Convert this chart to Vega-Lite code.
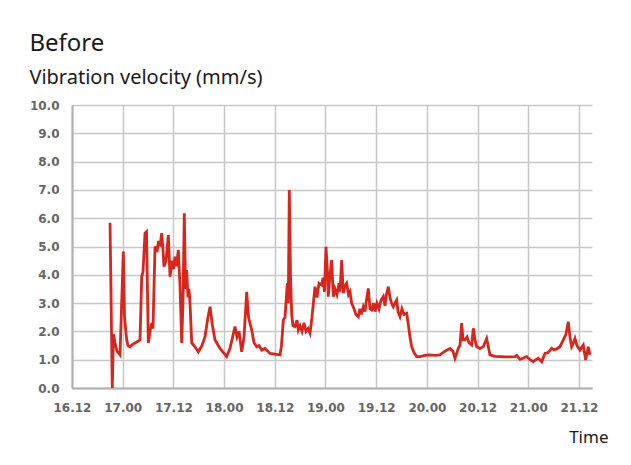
{
  "width": 520,
  "height": 283,
  "autosize": "none",
  "padding": {"left": 72, "top": 105, "right": 39, "bottom": 77},
  "background": "white",
  "title": {
    "text": "Before",
    "subtitle": "Vibration velocity (mm/s)",
    "anchor": "start",
    "dx": 0,
    "font": "Noto Sans",
    "fontSize": 24,
    "fontWeight": "normal",
    "color": "#1a1a1a",
    "subtitleFont": "Noto Sans",
    "subtitleFontSize": 20,
    "subtitleColor": "#1a1a1a",
    "subtitlePadding": 12,
    "offset": 11
  },
  "config": {
    "view": {"strokeWidth": 0},
    "axis": {
      "labelFont": "DejaVu Sans",
      "labelFontWeight": "bold",
      "labelFontSize": 12,
      "labelColor": "#666666",
      "gridColor": "#c6c8ca",
      "gridWidth": 1.5,
      "domainColor": "#b0b0b0",
      "domainWidth": 2,
      "ticks": false
    }
  },
  "data": {
    "values": [
      {"time": "2020-12-16T21:00:00Z", "v": 5.84},
      {"time": "2020-12-16T21:32:00Z", "v": 0.0},
      {"time": "2020-12-16T21:49:00Z", "v": 1.9},
      {"time": "2020-12-16T22:11:00Z", "v": 1.59},
      {"time": "2020-12-16T22:39:00Z", "v": 1.3},
      {"time": "2020-12-16T23:22:00Z", "v": 1.17},
      {"time": "2020-12-17T00:09:00Z", "v": 4.82},
      {"time": "2020-12-17T00:26:00Z", "v": 2.5},
      {"time": "2020-12-17T00:57:00Z", "v": 1.7},
      {"time": "2020-12-17T01:15:00Z", "v": 1.5},
      {"time": "2020-12-17T01:44:00Z", "v": 1.46},
      {"time": "2020-12-17T02:26:00Z", "v": 1.55},
      {"time": "2020-12-17T02:55:00Z", "v": 1.59},
      {"time": "2020-12-17T03:37:00Z", "v": 1.65},
      {"time": "2020-12-17T04:06:00Z", "v": 1.7},
      {"time": "2020-12-17T04:30:00Z", "v": 3.93},
      {"time": "2020-12-17T04:48:00Z", "v": 4.1},
      {"time": "2020-12-17T05:17:00Z", "v": 5.47},
      {"time": "2020-12-17T05:38:00Z", "v": 5.52},
      {"time": "2020-12-17T06:04:00Z", "v": 1.59},
      {"time": "2020-12-17T06:28:00Z", "v": 2.0},
      {"time": "2020-12-17T06:52:00Z", "v": 2.3},
      {"time": "2020-12-17T07:10:00Z", "v": 2.1},
      {"time": "2020-12-17T07:39:00Z", "v": 5.0},
      {"time": "2020-12-17T08:07:00Z", "v": 4.8},
      {"time": "2020-12-17T08:28:00Z", "v": 5.2},
      {"time": "2020-12-17T08:50:00Z", "v": 5.0},
      {"time": "2020-12-17T09:14:00Z", "v": 5.47},
      {"time": "2020-12-17T09:32:00Z", "v": 4.9},
      {"time": "2020-12-17T09:46:00Z", "v": 4.29},
      {"time": "2020-12-17T10:15:00Z", "v": 4.5},
      {"time": "2020-12-17T10:48:00Z", "v": 5.4},
      {"time": "2020-12-17T11:12:00Z", "v": 3.93},
      {"time": "2020-12-17T11:40:00Z", "v": 4.5},
      {"time": "2020-12-17T12:01:00Z", "v": 4.2},
      {"time": "2020-12-17T12:23:00Z", "v": 4.64},
      {"time": "2020-12-17T12:44:00Z", "v": 4.3},
      {"time": "2020-12-17T13:10:00Z", "v": 4.88},
      {"time": "2020-12-17T13:34:00Z", "v": 3.6},
      {"time": "2020-12-17T13:58:00Z", "v": 1.59},
      {"time": "2020-12-17T14:16:00Z", "v": 3.0},
      {"time": "2020-12-17T14:35:00Z", "v": 6.17},
      {"time": "2020-12-17T14:52:00Z", "v": 3.5},
      {"time": "2020-12-17T15:09:00Z", "v": 4.17},
      {"time": "2020-12-17T15:27:00Z", "v": 3.2},
      {"time": "2020-12-17T15:41:00Z", "v": 3.5},
      {"time": "2020-12-17T15:56:00Z", "v": 3.0},
      {"time": "2020-12-17T16:20:00Z", "v": 1.59},
      {"time": "2020-12-17T17:07:00Z", "v": 1.45},
      {"time": "2020-12-17T17:54:00Z", "v": 1.28},
      {"time": "2020-12-17T18:46:00Z", "v": 1.5},
      {"time": "2020-12-17T19:29:00Z", "v": 1.81},
      {"time": "2020-12-17T20:11:00Z", "v": 2.5},
      {"time": "2020-12-17T20:40:00Z", "v": 2.87},
      {"time": "2020-12-17T21:15:00Z", "v": 2.2},
      {"time": "2020-12-17T21:51:00Z", "v": 1.7},
      {"time": "2020-12-17T23:02:00Z", "v": 1.4},
      {"time": "2020-12-18T00:37:00Z", "v": 1.11},
      {"time": "2020-12-18T01:24:00Z", "v": 1.4},
      {"time": "2020-12-18T02:35:00Z", "v": 2.17},
      {"time": "2020-12-18T03:03:00Z", "v": 1.8},
      {"time": "2020-12-18T03:32:00Z", "v": 2.0},
      {"time": "2020-12-18T04:10:00Z", "v": 1.28},
      {"time": "2020-12-18T04:43:00Z", "v": 1.8},
      {"time": "2020-12-18T05:21:00Z", "v": 3.4},
      {"time": "2020-12-18T05:47:00Z", "v": 2.5},
      {"time": "2020-12-18T06:32:00Z", "v": 2.05},
      {"time": "2020-12-18T07:05:00Z", "v": 1.6},
      {"time": "2020-12-18T07:43:00Z", "v": 1.46},
      {"time": "2020-12-18T08:16:00Z", "v": 1.5},
      {"time": "2020-12-18T08:54:00Z", "v": 1.34},
      {"time": "2020-12-18T09:41:00Z", "v": 1.4},
      {"time": "2020-12-18T10:52:00Z", "v": 1.22},
      {"time": "2020-12-18T12:03:00Z", "v": 1.2},
      {"time": "2020-12-18T13:14:00Z", "v": 1.17},
      {"time": "2020-12-18T13:35:00Z", "v": 1.5},
      {"time": "2020-12-18T14:01:00Z", "v": 2.4},
      {"time": "2020-12-18T14:25:00Z", "v": 2.5},
      {"time": "2020-12-18T14:58:00Z", "v": 3.7},
      {"time": "2020-12-18T15:12:00Z", "v": 3.0},
      {"time": "2020-12-18T15:26:00Z", "v": 7.0},
      {"time": "2020-12-18T15:43:00Z", "v": 4.0},
      {"time": "2020-12-18T16:00:00Z", "v": 2.6},
      {"time": "2020-12-18T16:18:00Z", "v": 2.2},
      {"time": "2020-12-18T16:47:00Z", "v": 2.17},
      {"time": "2020-12-18T17:15:00Z", "v": 2.4},
      {"time": "2020-12-18T17:34:00Z", "v": 2.05},
      {"time": "2020-12-18T17:58:00Z", "v": 2.2},
      {"time": "2020-12-18T18:26:00Z", "v": 2.0},
      {"time": "2020-12-18T18:55:00Z", "v": 2.3},
      {"time": "2020-12-18T19:23:00Z", "v": 2.0},
      {"time": "2020-12-18T19:52:00Z", "v": 2.1},
      {"time": "2020-12-18T20:20:00Z", "v": 1.93},
      {"time": "2020-12-18T20:48:00Z", "v": 2.5},
      {"time": "2020-12-18T21:31:00Z", "v": 3.58},
      {"time": "2020-12-18T21:59:00Z", "v": 3.2},
      {"time": "2020-12-18T22:28:00Z", "v": 3.7},
      {"time": "2020-12-18T23:06:00Z", "v": 3.64},
      {"time": "2020-12-18T23:25:00Z", "v": 3.9},
      {"time": "2020-12-18T23:46:00Z", "v": 3.4},
      {"time": "2020-12-19T00:07:00Z", "v": 4.99},
      {"time": "2020-12-19T00:24:00Z", "v": 4.3},
      {"time": "2020-12-19T00:40:00Z", "v": 3.23},
      {"time": "2020-12-19T01:04:00Z", "v": 4.0},
      {"time": "2020-12-19T01:28:00Z", "v": 4.52},
      {"time": "2020-12-19T01:51:00Z", "v": 3.23},
      {"time": "2020-12-19T02:15:00Z", "v": 3.5},
      {"time": "2020-12-19T02:43:00Z", "v": 3.3},
      {"time": "2020-12-19T03:12:00Z", "v": 3.7},
      {"time": "2020-12-19T03:26:00Z", "v": 3.4},
      {"time": "2020-12-19T03:50:00Z", "v": 4.52},
      {"time": "2020-12-19T04:13:00Z", "v": 3.35},
      {"time": "2020-12-19T04:37:00Z", "v": 3.6},
      {"time": "2020-12-19T05:01:00Z", "v": 3.7},
      {"time": "2020-12-19T05:27:00Z", "v": 3.3},
      {"time": "2020-12-19T05:48:00Z", "v": 3.4},
      {"time": "2020-12-19T06:12:00Z", "v": 2.99},
      {"time": "2020-12-19T06:45:00Z", "v": 2.8},
      {"time": "2020-12-19T07:13:00Z", "v": 2.6},
      {"time": "2020-12-19T07:46:00Z", "v": 2.52},
      {"time": "2020-12-19T08:10:00Z", "v": 2.8},
      {"time": "2020-12-19T08:31:00Z", "v": 2.6},
      {"time": "2020-12-19T08:57:00Z", "v": 2.87},
      {"time": "2020-12-19T09:21:00Z", "v": 2.7},
      {"time": "2020-12-19T09:42:00Z", "v": 3.1},
      {"time": "2020-12-19T10:08:00Z", "v": 3.52},
      {"time": "2020-12-19T10:32:00Z", "v": 2.8},
      {"time": "2020-12-19T10:56:00Z", "v": 2.76},
      {"time": "2020-12-19T11:22:00Z", "v": 3.0},
      {"time": "2020-12-19T11:43:00Z", "v": 2.7},
      {"time": "2020-12-19T12:11:00Z", "v": 3.0},
      {"time": "2020-12-19T12:40:00Z", "v": 2.8},
      {"time": "2020-12-19T13:08:00Z", "v": 3.1},
      {"time": "2020-12-19T13:41:00Z", "v": 3.23},
      {"time": "2020-12-19T14:05:00Z", "v": 2.9},
      {"time": "2020-12-19T14:26:00Z", "v": 3.3},
      {"time": "2020-12-19T14:52:00Z", "v": 3.58},
      {"time": "2020-12-19T15:16:00Z", "v": 3.2},
      {"time": "2020-12-19T15:37:00Z", "v": 3.0},
      {"time": "2020-12-19T16:03:00Z", "v": 2.87},
      {"time": "2020-12-19T16:27:00Z", "v": 3.0},
      {"time": "2020-12-19T16:51:00Z", "v": 3.11},
      {"time": "2020-12-19T17:10:00Z", "v": 2.7},
      {"time": "2020-12-19T17:38:00Z", "v": 2.52},
      {"time": "2020-12-19T18:06:00Z", "v": 2.8},
      {"time": "2020-12-19T18:35:00Z", "v": 2.6},
      {"time": "2020-12-19T19:13:00Z", "v": 2.64},
      {"time": "2020-12-19T19:39:00Z", "v": 2.2},
      {"time": "2020-12-19T20:00:00Z", "v": 1.8},
      {"time": "2020-12-19T20:24:00Z", "v": 1.46},
      {"time": "2020-12-19T20:57:00Z", "v": 1.25},
      {"time": "2020-12-19T21:35:00Z", "v": 1.11},
      {"time": "2020-12-19T22:22:00Z", "v": 1.11},
      {"time": "2020-12-19T23:33:00Z", "v": 1.15},
      {"time": "2020-12-20T00:44:00Z", "v": 1.17},
      {"time": "2020-12-20T01:55:00Z", "v": 1.15},
      {"time": "2020-12-20T03:06:00Z", "v": 1.17},
      {"time": "2020-12-20T04:17:00Z", "v": 1.3},
      {"time": "2020-12-20T05:28:00Z", "v": 1.4},
      {"time": "2020-12-20T06:11:00Z", "v": 1.3},
      {"time": "2020-12-20T06:39:00Z", "v": 1.05},
      {"time": "2020-12-20T07:26:00Z", "v": 1.4},
      {"time": "2020-12-20T07:50:00Z", "v": 1.5},
      {"time": "2020-12-20T08:14:00Z", "v": 2.29},
      {"time": "2020-12-20T08:33:00Z", "v": 1.7},
      {"time": "2020-12-20T09:01:00Z", "v": 1.7},
      {"time": "2020-12-20T09:30:00Z", "v": 1.8},
      {"time": "2020-12-20T09:58:00Z", "v": 1.6},
      {"time": "2020-12-20T10:36:00Z", "v": 1.52},
      {"time": "2020-12-20T10:59:00Z", "v": 2.11},
      {"time": "2020-12-20T11:23:00Z", "v": 1.7},
      {"time": "2020-12-20T11:47:00Z", "v": 1.46},
      {"time": "2020-12-20T12:34:00Z", "v": 1.4},
      {"time": "2020-12-20T13:21:00Z", "v": 1.46},
      {"time": "2020-12-20T14:09:00Z", "v": 1.75},
      {"time": "2020-12-20T14:56:00Z", "v": 1.17},
      {"time": "2020-12-20T16:07:00Z", "v": 1.12},
      {"time": "2020-12-20T17:18:00Z", "v": 1.11},
      {"time": "2020-12-20T18:29:00Z", "v": 1.1},
      {"time": "2020-12-20T19:40:00Z", "v": 1.1},
      {"time": "2020-12-20T20:51:00Z", "v": 1.11},
      {"time": "2020-12-20T21:15:00Z", "v": 1.15},
      {"time": "2020-12-20T22:02:00Z", "v": 1.01},
      {"time": "2020-12-20T22:45:00Z", "v": 1.05},
      {"time": "2020-12-20T23:37:00Z", "v": 1.11},
      {"time": "2020-12-21T00:24:00Z", "v": 1.0},
      {"time": "2020-12-21T01:11:00Z", "v": 0.93},
      {"time": "2020-12-21T01:49:00Z", "v": 1.0},
      {"time": "2020-12-21T02:22:00Z", "v": 1.05},
      {"time": "2020-12-21T03:10:00Z", "v": 0.93},
      {"time": "2020-12-21T03:57:00Z", "v": 1.22},
      {"time": "2020-12-21T04:40:00Z", "v": 1.25},
      {"time": "2020-12-21T05:32:00Z", "v": 1.4},
      {"time": "2020-12-21T06:05:00Z", "v": 1.35},
      {"time": "2020-12-21T06:43:00Z", "v": 1.38},
      {"time": "2020-12-21T07:30:00Z", "v": 1.46},
      {"time": "2020-12-21T08:17:00Z", "v": 1.7},
      {"time": "2020-12-21T08:55:00Z", "v": 1.9},
      {"time": "2020-12-21T09:28:00Z", "v": 2.34},
      {"time": "2020-12-21T09:52:00Z", "v": 1.8},
      {"time": "2020-12-21T10:16:00Z", "v": 1.46},
      {"time": "2020-12-21T10:42:00Z", "v": 1.6},
      {"time": "2020-12-21T11:03:00Z", "v": 1.75},
      {"time": "2020-12-21T11:32:00Z", "v": 1.5},
      {"time": "2020-12-21T12:14:00Z", "v": 1.34},
      {"time": "2020-12-21T13:01:00Z", "v": 1.52},
      {"time": "2020-12-21T13:35:00Z", "v": 0.99},
      {"time": "2020-12-21T14:12:00Z", "v": 1.46},
      {"time": "2020-12-21T14:36:00Z", "v": 1.17}
    ]
  },
  "mark": {"type": "line", "color": "#d6261d", "strokeWidth": 2.8, "clip": true},
  "encoding": {
    "x": {
      "field": "time",
      "type": "temporal",
      "scale": {
        "type": "utc",
        "nice": false,
        "domain": [1608120000000, 1608563100000]
      },
      "axis": {
        "labelExpr": "utcFormat(datum.value, '%d.%H')",
        "values": [1608120000000, 1608163200000, 1608206400000, 1608249600000, 1608292800000, 1608336000000, 1608379200000, 1608422400000, 1608465600000, 1608508800000, 1608552000000],
        "labelPadding": 14,
        "labelFlush": false,
        "labelOverlap": false,
        "title": "Time",
        "titleFont": "Noto Sans",
        "titleFontSize": 17,
        "titleFontWeight": "normal",
        "titleColor": "#1a1a1a",
        "titleAlign": "right",
        "titleBaseline": "alphabetic",
        "titleX": 536,
        "titleY": 54
      }
    },
    "y": {
      "field": "v",
      "type": "quantitative",
      "scale": {"domain": [0, 10], "nice": false},
      "axis": {
        "values": [0, 1, 2, 3, 4, 5, 6, 7, 8, 9, 10],
        "format": ".1f",
        "labelPadding": 13,
        "title": null
      }
    }
  }
}
